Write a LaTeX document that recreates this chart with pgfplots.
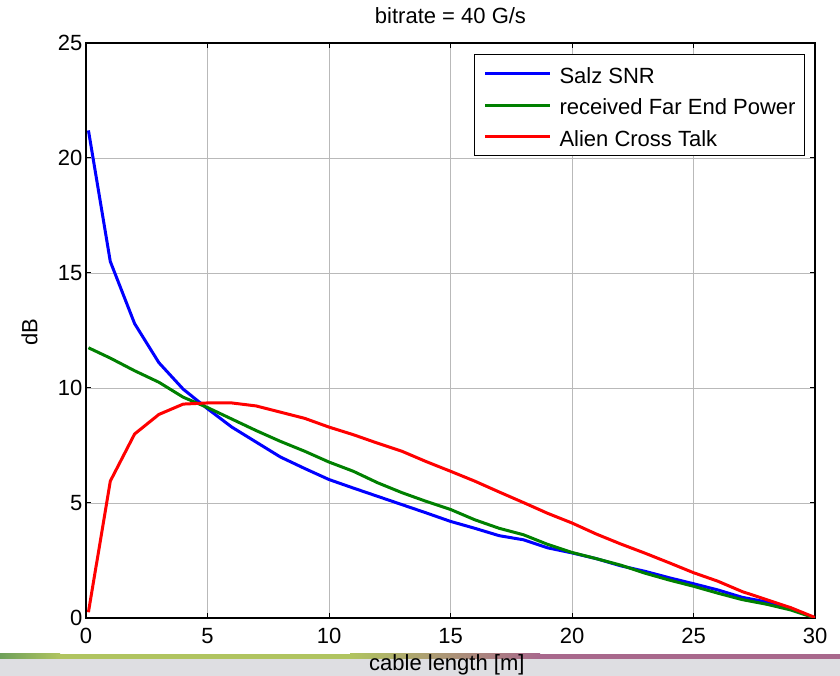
\documentclass[border=0pt]{standalone}
\usepackage{fontspec}
\setmainfont{Liberation Sans}
\usepackage{pgfplots}
\pgfplotsset{compat=1.18}
\newcommand\fsz{\fontsize{22}{26}\selectfont}
\definecolor{cA}{RGB}{110,160,90}
\definecolor{cB}{RGB}{176,196,96}
\definecolor{cC}{RGB}{168,104,140}
\definecolor{bandgray}{RGB}{222,222,226}
\definecolor{mgreen}{RGB}{0,128,0}
\begin{document}
\begin{tikzpicture}
\path[use as bounding box] (0pt,0pt) rectangle (840pt,676pt);
% slide decoration at the bottom
\fill[bandgray] (0pt,0pt) rectangle (840pt,17pt);
\fill[left color=cA, right color=cB] (0pt,17pt) rectangle (60pt,22pt);
\fill[cB] (59.5pt,17pt) rectangle (350pt,22pt);
\fill[left color=cB, right color=cC] (350pt,17pt) rectangle (540pt,22pt);
\fill[cC] (539.5pt,17pt) rectangle (840pt,22pt);
\begin{axis}[
  at={(86pt,58pt)}, anchor=south west,
  scale only axis, width=729pt, height=575pt,
  xmin=0, xmax=30, ymin=0, ymax=25,
  xtick={0,5,...,30}, ytick={0,5,...,25},
  grid=major, major grid style={gray!55, line width=0.8pt},
  tick align=inside, major tick length=5pt,
  tick style={black, line width=1pt},
  axis line style={line width=1.3pt},
  /pgf/number format/assume math mode=true,
  tick label style={font=\fsz},
  xticklabel style={yshift=-7pt},
  label style={font=\fsz},
  title={bitrate = 40 G/s},
  title style={font=\fsz, at={(rel axis cs:0.5,1.037)}, anchor=center},
  xlabel={cable length [m]},
  xlabel style={at={(rel axis cs:0.495,-0.0815)}, anchor=center},
  ylabel={dB},
  ylabel style={at={(rel axis cs:-0.0775,0.497)}, anchor=center},
  legend cell align=left,
  legend image code/.code={\draw[#1] (0pt,0pt) -- (65pt,0pt);},
  legend style={at={(rel axis cs:0.9863,0.9809)}, anchor=north east,
    draw=black, line width=1pt, fill=white, font=\fsz,
    inner xsep=9pt, inner ysep=8pt, nodes={inner sep=0pt, text height=21pt},
    column sep=8pt, row sep={31.5pt,between origins}},
]
\addplot[blue, line width=3pt] coordinates {
(0.1,21.2) (1,15.5) (2,12.8) (3,11.1) (4,9.95) (5,9.1) (6,8.3) (7,7.65)
(8,7.0) (9,6.5) (10,6.02) (11,5.65) (12,5.29) (13,4.93) (14,4.57) (15,4.2)
(16,3.9) (17,3.58) (18,3.4) (19,3.05) (20,2.83) (21,2.58) (22,2.27) (23,2.03)
(24,1.75) (25,1.49) (26,1.22) (27,0.9) (28,0.7) (29,0.42) (30,0.0)};
\addlegendentry{Salz SNR}
\addplot[mgreen, line width=3pt] coordinates {
(0.1,11.75) (1,11.3) (2,10.75) (3,10.25) (4,9.6) (5,9.15) (6,8.65) (7,8.15)
(8,7.68) (9,7.25) (10,6.78) (11,6.38) (12,5.88) (13,5.45) (14,5.07) (15,4.72)
(16,4.27) (17,3.9) (18,3.62) (19,3.2) (20,2.85) (21,2.58) (22,2.3) (23,1.95)
(24,1.65) (25,1.38) (26,1.08) (27,0.8) (28,0.6) (29,0.35) (30,0.0)};
\addlegendentry{received Far End Power}
\addplot[red, line width=3pt] coordinates {
(0.1,0.25) (1,5.95) (2,8.0) (3,8.85) (4,9.3) (5,9.35) (6,9.35) (7,9.22)
(8,8.95) (9,8.68) (10,8.3) (11,7.97) (12,7.6) (13,7.25) (14,6.8) (15,6.38)
(16,5.95) (17,5.48) (18,5.02) (19,4.55) (20,4.13) (21,3.65) (22,3.22) (23,2.82)
(24,2.4) (25,1.97) (26,1.6) (27,1.15) (28,0.8) (29,0.45) (30,0.02)};
\addlegendentry{Alien Cross Talk}
\end{axis}
\end{tikzpicture}
\end{document}
